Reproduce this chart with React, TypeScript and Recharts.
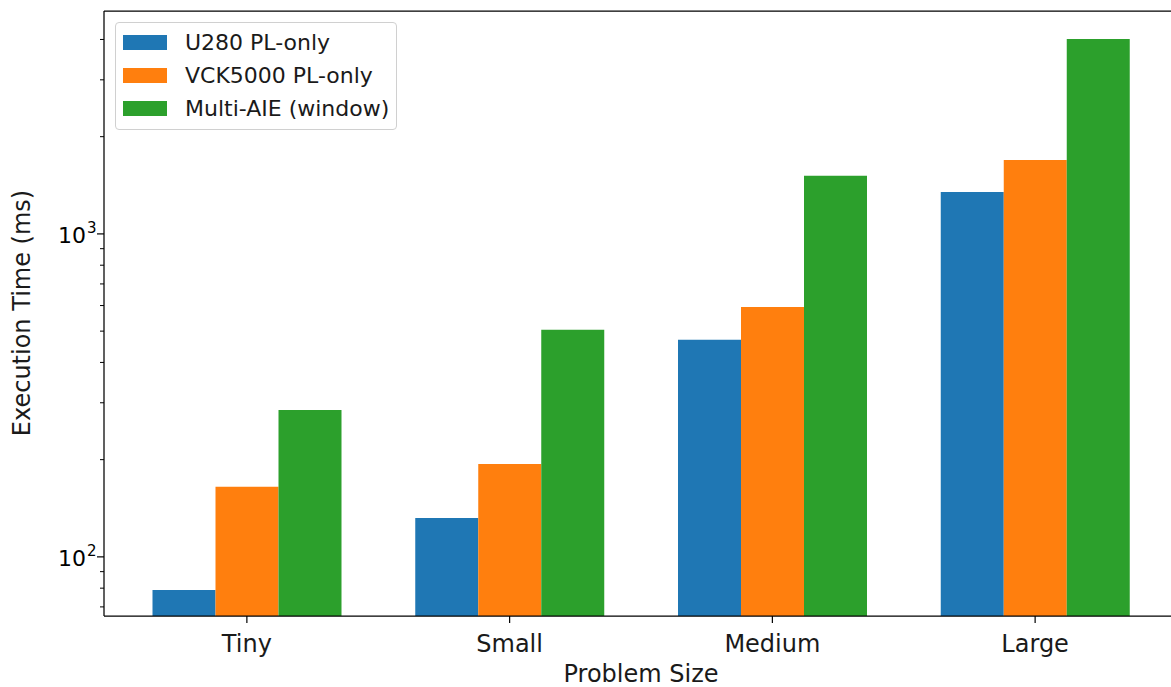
import React from 'react';
import { BarChart, Bar, XAxis, YAxis, Legend, Label, ReferenceLine } from 'recharts';

const sizes = ['Tiny', 'Small', 'Medium', 'Large'];
const u280 = [79, 132, 470, 1349];
const vck5000 = [165, 194, 594, 1694];
const multiAie = [285, 505, 1513, 4015];

const yTicks = [70, 80, 90, 100, 200, 300, 400, 500, 600, 700, 800, 900, 1000, 2000, 3000, 4000];
const majorTicks: Record<number, string> = { 100: '2', 1000: '3' };
const yDomain = [65.6, 4900];

const series = [
  { key: 'u280', name: 'U280 PL-only', color: '#1f77b4' },
  { key: 'vck5000', name: 'VCK5000 PL-only', color: '#ff7f0e' },
  { key: 'multiAie', name: 'Multi-AIE (window)', color: '#2ca02c' },
];

const data = sizes.map((size, i) => ({
  size,
  u280: u280[i],
  vck5000: vck5000[i],
  multiAie: multiAie[i],
}));

const FONT = '"DejaVu Sans", sans-serif';

function YTick(props: any) {
  const { x, y, payload } = props;
  const exp = majorTicks[payload.value];
  if (!exp) {
    return <line x1={x - 4} x2={x} y1={y} y2={y} stroke="#000" strokeWidth={1} />;
  }
  return (
    <g>
      <line x1={x - 7} x2={x} y1={y} y2={y} stroke="#000" strokeWidth={1.2} />
      <text x={x - 18} y={y + 9} textAnchor="end" fontSize={22} fill="#000" fontFamily={FONT}>
        10
      </text>
      <text x={x - 17} y={y - 1} textAnchor="start" fontSize={15} fill="#000" fontFamily={FONT}>
        {exp}
      </text>
    </g>
  );
}

function XTick(props: any) {
  const { x, y, payload } = props;
  return (
    <g>
      <line x1={x} x2={x} y1={y} y2={y + 7} stroke="#000" strokeWidth={1.2} />
      <text x={x} y={y + 36} textAnchor="middle" fontSize={24} fill="#1a1a1a" fontFamily={FONT}>
        {payload.value}
      </text>
    </g>
  );
}

function LegendBox() {
  return (
    <div
      style={{
        width: 280,
        border: '1px solid #d0d0d0',
        borderRadius: 4,
        background: 'rgba(255,255,255,0.8)',
        padding: '3px 0 4px 0',
        fontFamily: FONT,
        fontSize: 22,
        color: '#1a1a1a',
      }}
    >
      {series.map((s) => (
        <div key={s.key} style={{ display: 'flex', alignItems: 'center', height: 33 }}>
          <div style={{ width: 44, height: 15, background: s.color, marginLeft: 7, marginRight: 18 }} />
          <span style={{ whiteSpace: 'nowrap' }}>{s.name}</span>
        </div>
      ))}
    </div>
  );
}

export default function App() {
  return (
    <div
      style={{
        position: 'fixed',
        left: 0,
        top: 0,
        width: 1171,
        height: 687,
        overflow: 'hidden',
        background: '#fff',
      }}
    >
      <BarChart
        width={1190}
        height={687}
        data={data}
        margin={{ top: 11, right: 12, left: 0, bottom: 0 }}
        barGap={0}
        barSize={63}
      >
        <XAxis
          dataKey="size"
          height={71}
          padding={{ left: 11.5, right: 11.5 }}
          tickSize={0}
          tickMargin={0}
          tickLine={false}
          tick={<XTick />}
          axisLine={{ stroke: '#000', strokeWidth: 1.25 }}
          interval={0}
        >
          <Label
            value="Problem Size"
            position="insideBottom"
            offset={5}
            fontSize={24}
            fill="#1a1a1a"
            fontFamily={FONT}
          />
        </XAxis>
        <YAxis
          scale="log"
          domain={yDomain}
          allowDataOverflow
          ticks={yTicks}
          interval={0}
          width={104}
          tickSize={0}
          tickMargin={0}
          tickLine={false}
          tick={<YTick />}
          axisLine={{ stroke: '#000', strokeWidth: 1.25 }}
        >
          <Label
            content={() => (
              <text
                x={30}
                y={313}
                transform="rotate(-90, 30, 313)"
                textAnchor="middle"
                fontSize={24}
                fill="#1a1a1a"
                fontFamily={FONT}
              >
                Execution Time (ms)
              </text>
            )}
          />
        </YAxis>
        <ReferenceLine y={yDomain[1]} stroke="#000" strokeWidth={1.25} ifOverflow="extendDomain" />
        <Legend
          layout="vertical"
          align="center"
          verticalAlign="middle"
          wrapperStyle={{ left: 115, top: 22, width: 'auto', height: 'auto' }}
          content={() => <LegendBox />}
        />
        {series.map((s) => (
          <Bar key={s.key} dataKey={s.key} name={s.name} fill={s.color} isAnimationActive={false} />
        ))}
      </BarChart>
    </div>
  );
}
